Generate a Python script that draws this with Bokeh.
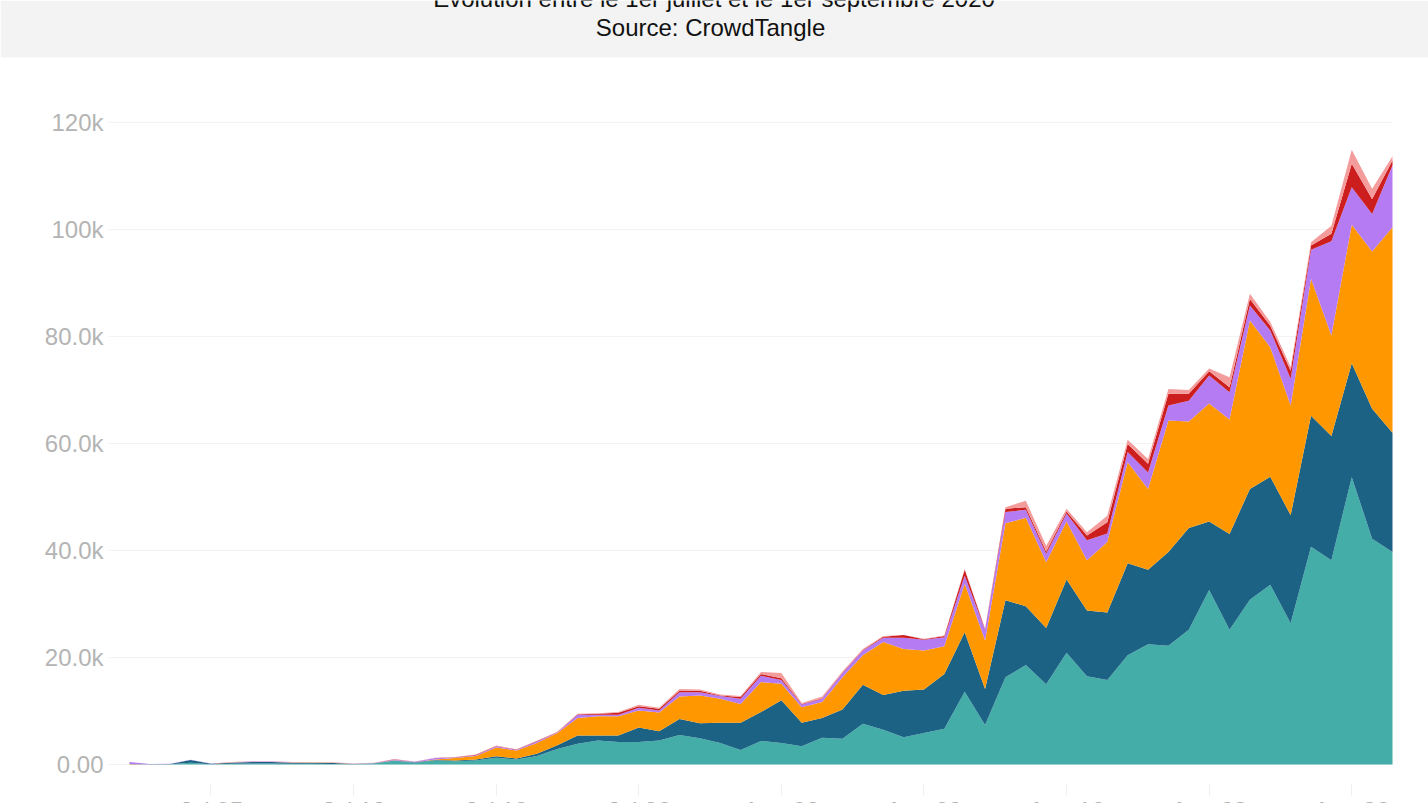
import pandas as pd
from bokeh.plotting import figure
from bokeh.embed import file_html
from bokeh.resources import INLINE
from bokeh.models import (ColumnDataSource, Range1d, FixedTicker, LinearAxis,
                          BoxAnnotation, Label)

start_date = "2020-07-01"
end_date = "2020-09-01"

title_lines = ["Évolution entre le 1er juillet et le 1er septembre 2020", "Source: CrowdTangle"]

x_tick_dates = ["2020-07-05", "2020-07-12", "2020-07-19", "2020-07-26", "2020-08-02",
                "2020-08-09", "2020-08-16", "2020-08-23", "2020-08-30"]
x_tick_labels = ["Jul 05", "Jul 12", "Jul 19", "Jul 26", "Aug 02", "Aug 09", "Aug 16", "Aug 23", "Aug 30"]
y_tick_values = [0, 20000, 40000, 60000, 80000, 100000, 120000]
y_tick_labels = ["0.00", "20.0k", "40.0k", "60.0k", "80.0k", "100k", "120k"]

# Cumulative top of each stacked band, in thousands, one value per day
teal = [0.0, 0.02, 0.03, 0.35, 0.05, 0.15, 0.2, 0.2, 0.15, 0.15, 0.1, 0.05, 0.2, 0.7, 0.35, 0.75, 0.6, 0.75, 1.25, 0.95, 1.6,
        2.9, 3.9, 4.5, 4.2, 4.2, 4.5, 5.5, 4.9, 4.0, 2.7, 4.4, 4.0, 3.4, 5.0, 4.8, 7.6, 6.5, 5.1, 5.9, 6.7, 13.6, 7.4,
        16.3, 18.6, 15.0, 20.9, 16.5, 15.8, 20.4, 22.5, 22.2, 25.2, 32.6, 25.2, 30.8, 33.6, 26.4, 40.7, 38.2, 53.7, 42.2, 39.7]
navy = [0.05, 0.05, 0.1, 0.85, 0.15, 0.35, 0.45, 0.45, 0.35, 0.35, 0.3, 0.1, 0.22, 0.75, 0.4, 0.85, 0.75, 0.95, 1.55, 1.1, 2.0,
        3.6, 5.4, 5.4, 5.4, 6.9, 6.2, 8.5, 7.7, 7.8, 7.8, 9.8, 12.0, 7.8, 8.7, 10.3, 14.9, 13.0, 13.8, 14.0, 16.9, 24.7, 14.1,
        30.7, 29.6, 25.5, 34.6, 28.8, 28.4, 37.6, 36.4, 39.7, 44.2, 45.4, 43.1, 51.5, 53.8, 46.6, 65.2, 61.4, 75.0, 66.5, 62.0]
orange = [0.1, 0.06, 0.11, 0.86, 0.16, 0.36, 0.46, 0.46, 0.37, 0.36, 0.31, 0.11, 0.24, 0.8, 0.42, 0.95, 1.2, 1.6, 3.2, 2.6, 4.0,
          5.9, 8.7, 9.0, 9.0, 10.1, 9.7, 12.7, 12.9, 12.3, 11.3, 15.4, 15.1, 10.7, 11.7, 16.3, 20.4, 22.9, 21.6, 21.3, 22.1, 33.8, 23.2,
          45.1, 46.1, 37.8, 45.4, 38.2, 41.6, 56.5, 51.5, 64.3, 64.1, 67.5, 64.5, 83.0, 78.0, 67.1, 90.8, 80.2, 100.9, 95.9, 100.4]
purple = [0.45, 0.1, 0.13, 0.88, 0.18, 0.42, 0.55, 0.56, 0.42, 0.38, 0.38, 0.15, 0.28, 0.95, 0.5, 1.2, 1.3, 1.75, 3.4, 2.75, 4.3,
          6.0, 9.3, 9.3, 9.3, 10.6, 10.1, 13.5, 13.5, 12.8, 12.3, 16.6, 15.8, 11.2, 12.3, 17.1, 21.3, 23.7, 23.7, 23.3, 23.8, 35.3, 25.2,
          47.2, 47.6, 39.4, 46.9, 41.9, 43.2, 58.4, 54.6, 67.1, 68.0, 72.7, 69.6, 85.8, 81.1, 72.1, 96.2, 97.8, 107.9, 102.9, 112.0]
red = [0.46, 0.1, 0.13, 0.88, 0.18, 0.42, 0.55, 0.57, 0.43, 0.38, 0.39, 0.15, 0.29, 0.98, 0.52, 1.22, 1.34, 1.8, 3.45, 2.8, 4.38,
       6.05, 9.4, 9.5, 9.65, 10.9, 10.4, 13.8, 13.8, 12.9, 12.6, 16.9, 16.1, 11.3, 12.4, 17.2, 21.4, 23.9, 24.2, 23.4, 24.0, 36.4, 25.3,
       47.8, 48.1, 39.8, 47.3, 42.8, 45.3, 59.9, 56.2, 69.3, 69.3, 73.5, 70.5, 87.0, 82.0, 73.6, 97.0, 99.2, 112.3, 105.7, 112.9]
pink = [0.48, 0.11, 0.14, 0.9, 0.2, 0.45, 0.6, 0.62, 0.47, 0.4, 0.42, 0.17, 0.32, 1.05, 0.56, 1.25, 1.4, 1.85, 3.55, 2.85, 4.45,
        6.1, 9.5, 9.6, 9.8, 11.15, 10.6, 14.1, 14.0, 13.1, 12.8, 17.3, 17.1, 11.5, 12.7, 17.4, 21.6, 24.0, 24.2, 23.5, 24.1, 36.6, 25.4,
        48.1, 49.3, 40.9, 47.8, 43.4, 46.5, 60.7, 57.1, 70.2, 70.0, 74.0, 72.4, 88.0, 82.7, 74.3, 97.6, 100.7, 114.9, 107.6, 113.7]

bands = [("teal", "#45ADA8"), ("navy", "#1C6285"), ("orange", "#FF9800"),
         ("purple", "#B57BF2"), ("red", "#CC1E1E"), ("pink", "#F49C9C")]


def to_ms(values):
    return (pd.to_datetime(values) - pd.Timestamp("1970-01-01")) / pd.Timedelta(milliseconds=1)


days = pd.date_range(start_date, end_date, freq="D")
x = list(to_ms(days))
series = {"teal": teal, "navy": navy, "orange": orange, "purple": purple, "red": red, "pink": pink}
data = {"x": x, "base": [0.0] * len(x)}
for name, vals in series.items():
    data[name] = [v * 1000 for v in vals]
source = ColumnDataSource(data)

WIDTH, HEIGHT = 1428, 803
PX_PER_DAY = 20.371
PX_PER_UNIT = 5.35 / 1000
FIRST_DAY_PX = 129
ZERO_PX = 764
HEADER_PX = 57
DAY_MS = 86400000.0


def x_at(px):
    return x[0] + (px - FIRST_DAY_PX) / PX_PER_DAY * DAY_MS


def y_at(py):
    return (ZERO_PX - py) / PX_PER_UNIT


# The frame fills the whole canvas so the header band can reach every edge.
p = figure(
    width=WIDTH, height=HEIGHT, output_backend="svg", toolbar_location=None,
    x_axis_type=None, y_axis_type=None,
    x_range=Range1d(x_at(0), x_at(WIDTH)), y_range=Range1d(y_at(HEIGHT), y_at(0)),
    min_border=0, outline_line_color=None,
    background_fill_color="white", border_fill_color="white",
)

# Horizontal grid lines stop at the axis position and the last day, as in the reference.
p.segment(x0=[x_at(108)] * len(y_tick_values), x1=[x[-1]] * len(y_tick_values),
          y0=y_tick_values, y1=y_tick_values, line_color="#F3F3F3", line_width=1, level="underlay")

prev = "base"
for name, color in bands:
    p.varea(x="x", y1=prev, y2=name, source=source, fill_color=color, fill_alpha=1.0)
    prev = name

ms_ticks = [float(v) for v in to_ms(x_tick_dates)]
label_style = dict(major_label_text_color="#B4B4B4", major_label_text_font="Liberation Sans",
                   major_label_text_font_size="24px", axis_line_color=None, minor_tick_line_color=None)

p.add_layout(LinearAxis(
    ticker=FixedTicker(ticks=ms_ticks),
    major_label_overrides=dict(zip(ms_ticks, x_tick_labels)),
    fixed_location=y_at(783), major_tick_line_color="#EFEFEF", major_tick_line_width=1,
    major_tick_in=0, major_tick_out=12, major_label_standoff=1, **label_style,
), "below")

p.add_layout(LinearAxis(
    ticker=FixedTicker(ticks=y_tick_values),
    major_label_overrides=dict(zip(y_tick_values, y_tick_labels)),
    fixed_location=x_at(108), major_tick_line_color=None,
    major_tick_in=0, major_tick_out=0, major_label_standoff=5, **label_style,
), "left")

p.add_layout(BoxAnnotation(bottom=y_at(HEADER_PX), fill_color="#F3F3F3", fill_alpha=1.0, line_color=None))

for line, cx, py in zip(title_lines, [713.5, 710], [-1.7, 27.3]):
    p.add_layout(Label(x=x_at(cx), y=y_at(py), text=line,
                       text_font="Liberation Sans", text_font_size="24px", text_color="#111111",
                       text_align="center", text_baseline="middle"))

open("out.html", "w").write(file_html(p, INLINE))
